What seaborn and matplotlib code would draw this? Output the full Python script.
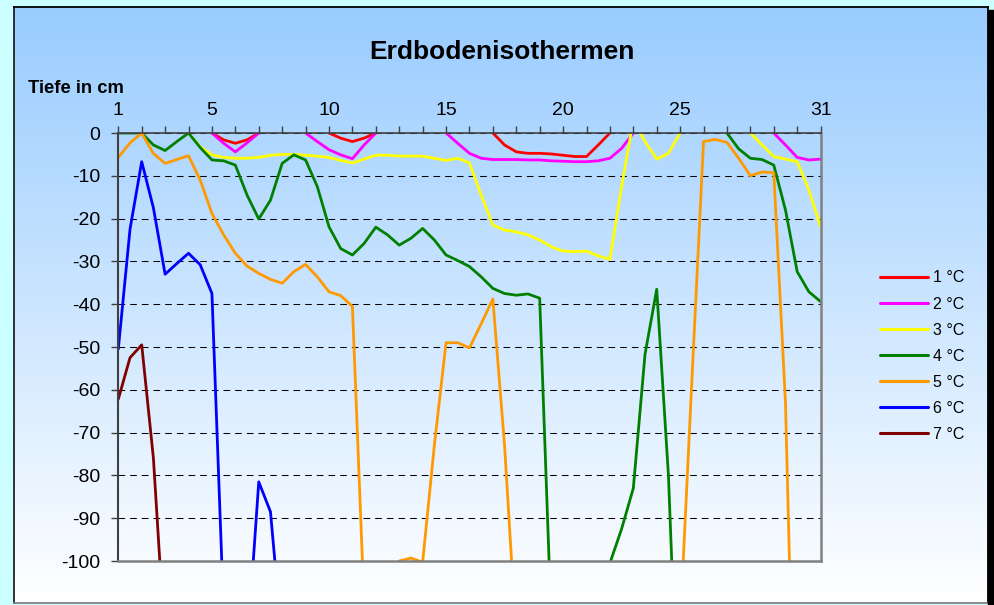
import numpy as np
import pandas as pd
import matplotlib
matplotlib.use('Agg')
import matplotlib.pyplot as plt
import seaborn as sns
from matplotlib.colors import LinearSegmentedColormap
from matplotlib.patches import Rectangle

NA = np.nan

days = np.arange(1, 31.5, 0.5)

labels = ['1 °C', '2 °C', '3 °C', '4 °C', '5 °C', '6 °C', '7 °C']
colors = ['#FF0000', '#FF00FF', '#FFFF00', '#008000', '#FF9900', '#0000FF', '#800000']

x_ticks = list(range(1, 32))
x_labels = {1: '1', 5: '5', 10: '10', 15: '15', 20: '20', 25: '25', 31: '31'}
y_ticks = list(range(-100, 1, 10))

# Tiefe der Isotherme in cm (NA = keine Isotherme / ausserhalb)
iso_1 = [NA, NA, NA, NA, NA, NA, NA, NA, 0, -1.6,
         -2.4, -1.6, 0, NA, NA, NA, NA, NA, 0, -1.2,
         -2.0, -1.2, 0, NA, NA, NA, NA, NA, NA, NA,
         NA, NA, 0, -2.8, -4.4, -4.75, -4.75, -4.9, -5.2, -5.5,
         -5.5, -2.8, 0, NA, NA, NA, NA, NA, NA, NA,
         NA, NA, NA, NA, NA, NA, NA, NA, NA, NA,
         NA]
iso_2 = [NA, NA, NA, NA, NA, NA, NA, NA, 0, -2.4,
         -4.4, -2.3, 0, NA, NA, NA, 0, -2.0, -3.9, -5.1,
         -6.0, -2.8, 0, NA, NA, NA, NA, NA, 0, -2.4,
         -4.75, -5.9, -6.2, -6.2, -6.2, -6.3, -6.3, -6.5, -6.6, -6.7,
         -6.7, -6.5, -5.9, -3.6, 0, NA, NA, NA, NA, NA,
         NA, NA, NA, NA, NA, NA, 0, -2.8, -5.7, -6.3,
         -6.1]
iso_3 = [NA, NA, NA, NA, NA, NA, 0, -3.2, -5.1, -5.7,
         -5.9, -5.9, -5.7, -5.2, -5.0, -5.0, -5.2, -5.4, -5.7, -6.4,
         -7.0, -6.1, -5.2, -5.2, -5.4, -5.4, -5.4, -5.9, -6.4, -5.9,
         -7.0, -14.5, -21.5, -22.7, -23.1, -23.8, -25.0, -26.6, -27.6, -27.7,
         -27.6, -28.7, -29.5, -12.5, 3.0, -2.0, -6.1, -4.75, 0, NA,
         NA, NA, NA, NA, 0, -2.8, -5.5, -6.1, -6.7, -13.3,
         -21.9]
iso_4 = [0, 0, 0, -2.8, -4.1, -2.0, 0, -3.4, -6.3, -6.5,
         -7.5, -14.5, -20.1, -15.7, -7.1, -5.1, -6.3, -12.5, -21.9, -27.0,
         -28.5, -25.8, -22.0, -23.8, -26.2, -24.6, -22.3, -25.0, -28.5, -29.8,
         -31.2, -33.6, -36.3, -37.5, -37.9, -37.6, -38.6, -115, NA, NA,
         NA, NA, -100.5, -92.5, -83.0, -51.7, -36.5, -80.0, -151, NA,
         NA, NA, 0, -3.7, -5.9, -6.2, -7.5, -18.0, -32.4, -37.1,
         -39.4]
iso_5 = [-5.7, -2.3, 0, -4.8, -7.1, -6.2, -5.3, -11.0, -18.8, -23.8,
         -28.1, -31.1, -32.8, -34.2, -35.1, -32.4, -30.7, -33.6, -37.1, -38.0,
         -40.5, -110, NA, -140, -100.0, -99.3, -100.3, -73.0, -49.0, -49.0,
         -50.2, -44.6, -38.8, -73.0, -118, NA, NA, NA, NA, NA,
         NA, NA, NA, NA, NA, NA, NA, NA, -115, -58,
         -2.0, -1.5, -2.2, -5.9, -10.0, -9.1, -9.3, -63, -172, NA,
         NA]
iso_6 = [-50.5, -22.5, -6.7, -17.5, -33.0, -30.5, -28.1, -30.8, -37.5, -112,
         NA, -121, -81.5, -88.5, -119, NA, NA, NA, NA, NA,
         NA, NA, NA, NA, NA, NA, NA, NA, NA, NA,
         NA, NA, NA, NA, NA, NA, NA, NA, NA, NA,
         NA, NA, NA, NA, NA, NA, NA, NA, NA, NA,
         NA, NA, NA, NA, NA, NA, NA, NA, NA, NA,
         NA]
iso_7 = [-62.2, -52.5, -49.5, -76, -120, NA, NA, NA, NA, NA,
         NA, NA, NA, NA, NA, NA, NA, NA, NA, NA,
         NA, NA, NA, NA, NA, NA, NA, NA, NA, NA,
         NA, NA, NA, NA, NA, NA, NA, NA, NA, NA,
         NA, NA, NA, NA, NA, NA, NA, NA, NA, NA,
         NA, NA, NA, NA, NA, NA, NA, NA, NA, NA,
         NA]

series = [iso_1, iso_2, iso_3, iso_4, iso_5, iso_6, iso_7]

# long format, every gap starts a new piece of line
frames = []
for lab, vals in zip(labels, series):
    d = pd.DataFrame({'Tag': days, 'Tiefe': vals})
    d['Isotherme'] = lab
    d['Stueck'] = d['Tiefe'].isna().cumsum()
    frames.append(d.dropna())
df = pd.concat(frames, ignore_index=True)

sns.set_style('white')
plt.rcParams['font.family'] = ['Liberation Sans', 'DejaVu Sans']
plt.rcParams['text.color'] = 'black'
plt.rcParams['xtick.color'] = 'black'
plt.rcParams['ytick.color'] = 'black'

W, H = 994, 605
fig = plt.figure(figsize=(W / 100, H / 100), dpi=100, facecolor='#CCFFFF')

# chart area with blue -> white gradient
bg = fig.add_axes([14 / W, 1 - 603 / H, 974 / W, 596 / H])
grad = np.linspace(0, 1, 256).reshape(-1, 1)
cmap = LinearSegmentedColormap.from_list('bg', ['#99CCFF', '#FFFFFF'])
bg.imshow(grad, aspect='auto', cmap=cmap, extent=[0, 1, 0, 1])
bg.set_xticks([])
bg.set_yticks([])
bg.spines['top'].set_color('black')
bg.spines['left'].set_color('#222222')
bg.spines['right'].set_color('black')
bg.spines['bottom'].set_color('#808080')
for s in bg.spines.values():
    s.set_linewidth(1.3)
fig.add_artist(Rectangle((988 / W, 0), 6 / W, 595 / H, transform=fig.transFigure,
                         color='black', zorder=5))

# plot area
ax = fig.add_axes([118.3 / W, 1 - 561 / H, (820.6 - 118.3) / W, 428 / H])
ax.patch.set_alpha(0)

sns.lineplot(data=df, x='Tag', y='Tiefe', hue='Isotherme', hue_order=labels,
             palette=colors, units='Stueck', estimator=None, linewidth=2.0, ax=ax)

ax.set_xlim(1, 31)
ax.set_ylim(-100, 0)
ax.set_xlabel('')
ax.set_ylabel('')

ax.xaxis.tick_top()
ax.set_xticks(x_ticks)
ax.set_xticklabels([x_labels.get(t, '') for t in x_ticks])
ax.set_yticks(y_ticks)
ax.set_yticklabels([str(t) for t in y_ticks])
ax.tick_params(axis='x', top=True, bottom=False, direction='out', length=5, width=1,
               color='#404040', labelcolor='black', labelsize=14, pad=5)
ax.tick_params(axis='y', left=True, direction='out', length=5, width=1,
               color='#404040', labelcolor='black', labelsize=14, pad=8)

ax.yaxis.grid(True, color='black', linewidth=0.75, linestyle=(0, (6.4, 4.8)))
ax.xaxis.grid(False)

ax.spines['top'].set_color('#404040')
ax.spines['top'].set_linewidth(1.2)
ax.spines['left'].set_color('#404040')
ax.spines['left'].set_linewidth(1.5)
ax.spines['right'].set_color('#808080')
ax.spines['right'].set_linewidth(1.8)
ax.spines['bottom'].set_color('#808080')
ax.spines['bottom'].set_linewidth(1.8)

# legend on the right
handles, labs = ax.get_legend_handles_labels()
ax.get_legend().remove()
leg = fig.legend(handles, labs, loc='upper left', bbox_to_anchor=(880 / W, 1 - 270.5 / H),
                 frameon=False, fontsize=11.5, handlelength=3.0, handletextpad=0.3,
                 labelspacing=0.69, borderpad=0, borderaxespad=0)
for h in leg.get_lines():
    h.set_linewidth(2.2)
for t in leg.get_texts():
    t.set_color('black')

fig.text(501.5 / W, 1 - 52 / H, 'Erdbodenisothermen', ha='center', va='center',
         fontsize=19, fontweight='bold', color='black')
fig.text(28 / W, 1 - 92.7 / H, 'Tiefe in cm', ha='left', va='baseline',
         fontsize=13.2, fontweight='bold', color='black')

fig.savefig('out.png', dpi=100, facecolor=fig.get_facecolor())
